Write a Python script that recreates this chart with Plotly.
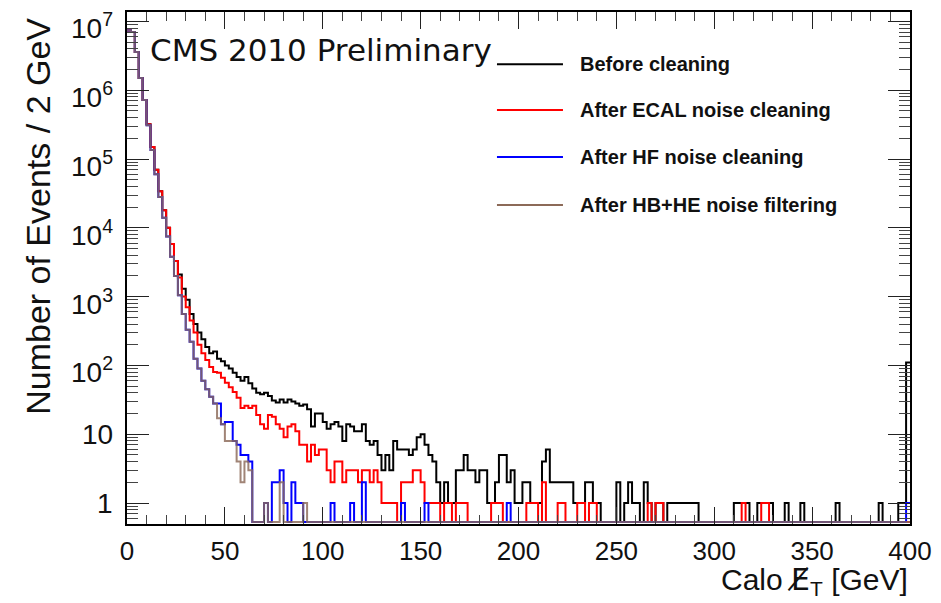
import math
import plotly.graph_objects as go

# ---------------- data (counts per 2 GeV bin, 0-400 GeV) ----------------
BIN_WIDTH = 2
bin_low_edges = [BIN_WIDTH * i for i in range(200)]

series_names = ["Before cleaning", "After ECAL noise cleaning",
                "After HF noise cleaning", "After HB+HE noise filtering"]
series_colors = ["#000000", "#ff0000", "#0000ff", "#8c6a58"]

before_cleaning = [
    7400000, 7000000, 3600000, 1500000, 720000, 320000, 150000, 70000, 34000, 18000,
    10000, 5800, 3300, 2100, 1300, 900, 560, 400, 300, 240,
    185, 150, 160, 125, 115, 100, 90, 78, 68, 60,
    68, 55, 46, 40, 38, 40, 36, 31, 29, 32,
    29, 32, 30, 28, 26, 27, 23, 13, 20, 20,
    15, 12, 14, 15, 13, 8, 14, 13, 11, 11,
    14, 8, 7, 8, 5, 3, 5, 3, 8, 6,
    6, 6, 5, 6, 9, 10, 7, 5, 4, 2,
    1, 2, 1, 1, 3, 3, 5, 3, 3, 2,
    3, 3, 1, 1, 2, 5, 5, 2, 3, 1,
    1, 2, 2, 1, 1, 1, 4, 6, 2, 2,
    2, 2, 2, 2, 1, 1, 1, 2, 2, 1,
    1, 0, 0, 0, 0, 2, 0, 1, 2, 1,
    1, 0, 2, 1, 0, 1, 1, 0, 1, 1,
    1, 1, 1, 1, 1, 1, 0, 0, 0, 0,
    0, 0, 0, 0, 0, 1, 1, 1, 1, 0,
    0, 1, 1, 1, 1, 0, 0, 0, 1, 0,
    0, 0, 1, 0, 0, 0, 0, 0, 0, 0,
    0, 1, 0, 0, 0, 0, 0, 0, 0, 0,
    0, 0, 1, 0, 0, 0, 0, 1, 1, 110,
]

after_ecal = [
    7400000, 7000000, 3600000, 1500000, 720000, 320000, 150000, 70000, 34000, 18000,
    10000, 5800, 3300, 1900, 1000, 700, 450, 300, 200, 150,
    120, 95, 80, 78, 66, 56, 48, 41, 34, 24,
    26, 24, 26, 19, 14, 12, 19, 18, 14, 12,
    9, 13, 14, 11, 7, 7, 4, 7, 5, 6,
    6, 3, 2, 4, 4, 2, 3, 3, 3, 2,
    3, 3, 2, 3, 2, 1, 1, 1, 1, 0,
    2, 2, 2, 3, 3, 2, 1, 1, 1, 1,
    0, 1, 1, 0, 1, 1, 1, 0, 0, 0,
    0, 0, 0, 1, 1, 1, 0, 0, 0, 0,
    0, 0, 1, 1, 1, 0, 2, 0, 0, 0,
    1, 1, 0, 0, 0, 1, 1, 0, 1, 1,
    0, 0, 0, 0, 0, 0, 0, 0, 0, 0,
    0, 0, 0, 1, 0, 1, 1, 0, 0, 0,
    0, 0, 0, 0, 0, 0, 0, 0, 0, 0,
    0, 0, 0, 0, 0, 0, 0, 1, 0, 0,
    0, 0, 1, 1, 0, 0, 0, 0, 0, 0,
    0, 0, 0, 0, 0, 0, 0, 0, 0, 0,
    0, 0, 0, 0, 0, 0, 0, 0, 0, 0,
    0, 0, 0, 0, 0, 0, 0, 0, 0, 0,
]

after_hf = [
    7400000, 7000000, 3600000, 1500000, 720000, 310000, 135000, 60000, 28000, 14000,
    7500, 3800, 2000, 1050, 560, 330, 220, 125, 90, 60,
    45, 35, 28, 28, 14, 15, 15, 8, 7, 5,
    5, 4, 0, 0, 0, 1, 0, 2, 2, 3,
    1, 0, 2, 1, 1, 0, 0, 0, 0, 0,
    0, 0, 1, 0, 0, 0, 0, 1, 0, 0,
    2, 0, 0, 0, 0, 0, 0, 0, 0, 0,
    1, 0, 0, 0, 0, 0, 1, 0, 0, 0,
    0, 0, 0, 0, 0, 0, 0, 0, 0, 0,
    0, 0, 0, 0, 0, 0, 0, 1, 0, 0,
    0, 0, 0, 0, 0, 0, 0, 0, 0, 0,
    0, 0, 0, 0, 0, 0, 0, 0, 0, 0,
    0, 0, 0, 0, 0, 0, 0, 0, 0, 0,
    0, 0, 0, 0, 0, 0, 0, 0, 0, 0,
    0, 0, 0, 0, 0, 0, 0, 0, 0, 0,
    0, 0, 0, 0, 0, 0, 0, 0, 0, 0,
    0, 0, 0, 0, 0, 0, 0, 0, 0, 0,
    0, 0, 0, 0, 0, 0, 0, 0, 0, 0,
    0, 0, 0, 0, 0, 0, 0, 0, 0, 0,
    0, 0, 0, 0, 0, 0, 0, 0, 0, 1,
]

after_hbhe = [
    7400000, 7000000, 3600000, 1500000, 720000, 310000, 135000, 60000, 28000, 14000,
    7500, 3800, 2000, 1050, 560, 330, 220, 125, 90, 60,
    45, 35, 28, 17, 14, 8, 8, 8, 4, 2,
    4, 3, 0, 0, 0, 1, 0, 0, 0, 2,
    0, 0, 0, 0, 0, 1, 0, 0, 0, 0,
] + [0] * 150

x_tick_vals = [0, 50, 100, 150, 200, 250, 300, 350, 400]
y_tick_vals = [1, 10, 100, 1000, 10000, 100000, 1000000, 10000000]
y_tick_text = ["1", "10", "10<sup>2</sup>", "10<sup>3</sup>", "10<sup>4</sup>",
               "10<sup>5</sup>", "10<sup>6</sup>", "10<sup>7</sup>"]

# ---------------- figure ----------------
Y_LOG_MIN, Y_LOG_MAX = -0.305, 7.137
floor_val = 10 ** (Y_LOG_MIN + 0.03)   # empty bins drawn at the axis floor
FONT = "Liberation Sans, Arial, sans-serif"

fig = go.Figure()
all_series = [before_cleaning, after_ecal, after_hf, after_hbhe]
for name, color, vals in zip(series_names, series_colors, all_series):
    xs = bin_low_edges + [bin_low_edges[-1] + BIN_WIDTH]
    ys = [v if v > 0 else floor_val for v in vals]
    ys = ys + [ys[-1]]
    fig.add_trace(go.Scatter(
        x=xs, y=ys, mode="lines", name=name,
        line=dict(color=color, width=2, shape="hv"),
        opacity=0.82 if name == series_names[3] else 1.0,
        showlegend=False, hoverinfo="skip"))

# manual legend (long line samples like the original)
leg_x0, leg_x1, leg_tx = 0.4725, 0.5568, 0.576
leg_rows = [0.898, 0.8086, 0.7168, 0.623]
for name, color, yy in zip(series_names, series_colors, leg_rows):
    fig.add_shape(type="line", xref="paper", yref="paper",
                  x0=leg_x0, x1=leg_x1, y0=yy, y1=yy,
                  line=dict(color=color, width=2))
    fig.add_annotation(xref="paper", yref="paper", x=leg_tx, y=yy,
                       xanchor="left", yanchor="middle", showarrow=False,
                       text="<b>" + name + "</b>",
                       font=dict(family=FONT, size=20, color="#111111"))

fig.add_annotation(xref="paper", yref="paper", x=0.0268, y=0.926,
                   xanchor="left", yanchor="middle", showarrow=False,
                   text="CMS 2010 Preliminary",
                   font=dict(family="DejaVu Sans, Verdana, sans-serif",
                             size=31, color="#111111"))

# y tick labels (placed like ROOT: exponent labels sit slightly low)
for val, txt in zip(y_tick_vals, y_tick_text):
    fig.add_annotation(xref="paper", yref="y", x=0.0, y=math.log10(val),
                       xanchor="right", yanchor="middle", xshift=-12,
                       yshift=-5 if "sup" in txt else 0, showarrow=False,
                       text=txt, font=dict(family=FONT, size=28, color="#111111"))

# axis titles
fig.add_annotation(xref="paper", yref="paper", x=1.0, y=0.0,
                   xanchor="right", yanchor="top", yshift=-36, showarrow=False,
                   text="Calo <span style=\"font-family:'DejaVu Sans'\">E\u0338</span><sub>T</sub> [GeV]",
                   font=dict(family=FONT, size=30, color="#111111"))
fig.add_annotation(xref="paper", yref="paper", x=0.0, y=0.6,
                   xanchor="center", yanchor="middle", xshift=-89,
                   showarrow=False, textangle=-90,
                   text="Number of Events / 2 GeV",
                   font=dict(family=FONT, size=34, color="#111111"))

x_tick_font = dict(family=FONT, size=26, color="#111111")

fig.update_xaxes(
    range=[0, 400], tickvals=x_tick_vals, ticks="inside", ticklen=17,
    tickwidth=1.2, tickcolor="#222222", showline=True, linecolor="black",
    linewidth=2, mirror="ticks", showgrid=False, zeroline=False,
    tickfont=x_tick_font, ticklabelstandoff=3, automargin=False,
    ticklabeloverflow="allow",
    minor=dict(dtick=10, ticks="inside", ticklen=9, tickwidth=1,
               tickcolor="#444444", showgrid=False))
fig.update_yaxes(
    type="log", range=[Y_LOG_MIN, Y_LOG_MAX], tickvals=y_tick_vals,
    showticklabels=False, ticks="inside", ticklen=22, tickwidth=1.2,
    tickcolor="#222222", showline=True, linecolor="black", linewidth=2,
    mirror="ticks", showgrid=False, zeroline=False, automargin=False,
    minor=dict(dtick="D1", ticks="inside", ticklen=11, tickwidth=1,
               tickcolor="#444444", showgrid=False))

# the page body adds an 8px offset; margins compensate so the frame lands
# at the same screen position as the reference
fig.update_layout(
    width=941, height=603,
    margin=dict(l=119, r=39, t=4, b=87),
    plot_bgcolor="white", paper_bgcolor="white",
    showlegend=False)

fig.write_html("out.html")
